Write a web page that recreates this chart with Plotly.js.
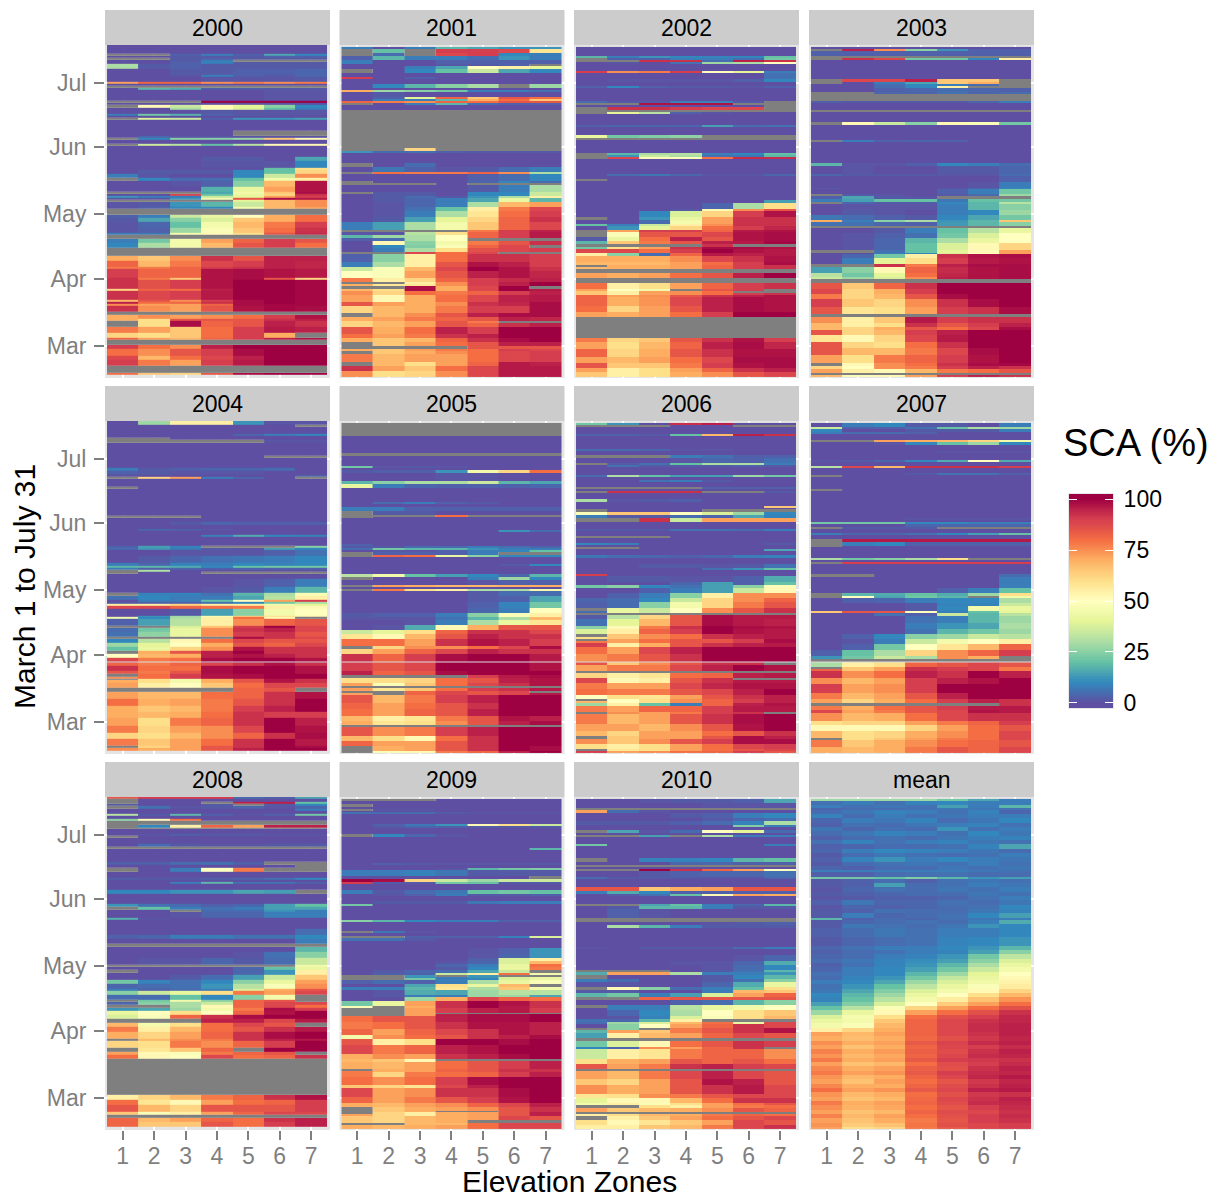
<!DOCTYPE html>
<html>
<head>
<meta charset="utf-8">
<script src="https://cdn.plot.ly/plotly-3.0.1.min.js"></script>
<style>body{margin:0;background:#fff}</style>
</head>
<body>
<div id="chart" style="width:1222px;height:1199px"></div>
<script>
const NA = null;
const zones = [1, 2, 3, 4, 5, 6, 7];
const monthTicks = [15, 46, 76, 107, 137];
const monthLabels = ["Mar", "Apr", "May", "Jun", "Jul"];
const legendTicks = [0, 25, 50, 75, 100];
const panelNames = ["2000","2001","2002","2003","2004","2005","2006","2007","2008","2009","2010","mean"];

// every row: [day counted from 31 July downwards, SCA of zone 1..7], row lasts until the next one
const sca2000 = [
[0,0,0,0,0,0,0,0],[4,NA,NA,3,8,3,15,10],[5,0,0,2,2,2,3,3],[6,NA,NA,2,3,2,2,2],[7,0,0,2,8,NA,NA,NA],[8,0,0,3,9,2,2,2],[9,30,2,3,2,2,2,2],[11,0,0,2,2,3,3,4],[14,0,0,1,8,3,2,4],[15,0,0,0,1,1,1,2],[17,72,82,82,75,78,75,78],[18,0,0,0,0,0,0,0],[19,NA,NA,NA,NA,NA,NA,NA],[20,0,18,16,3,3,2,2],[21,0,0,0,0,0,1,1],[26,NA,NA,NA,100,100,100,100],[27,0,0,0,0,0,0,0],[28,NA,52,35,52,40,25,10],[29,0,0,30,48,38,20,8],[30,0,0,0,2,1,1,1],[32,8,22,17,3,2,1,1],[33,0,0,0,0,0,0,0],[34,NA,38,36,3,12,12,14],[35,0,0,0,0,0,0,0],[40,0,0,0,0,NA,NA,NA],[42,0,4,1,1,1,1,1],[43,NA,10,25,25,28,65,52],[44,0,0,0,0,0,0,0],[46,NA,36,32,20,32,52,52],[47,0,0,0,0,0,0,0],[52,0,0,0,2,2,0,15],[54,0,0,0,1,1,1,10],[57,0,0,0,0,0,20,60],[58,0,2,2,2,10,20,62],[60,8,1,0,0,10,35,75],[61.5,NA,10,5,5,20,45,55],[63,0,0,1,3,25,68,97],[65.7,0,0,0,17,42,72,97],[68,NA,NA,NA,15,45,65,98],[69,0,0,88,20,42,62,92],[70,12,8,8,35,40,72,90],[71,1,1,12,45,85,98,96],[72,NA,NA,NA,NA,40,68,75],[73,1,2,12,18,35,68,75],[75,1,3,10,10,45,68,72],[76,NA,NA,NA,NA,NA,NA,NA],[79,3,8,35,42,50,70,80],[80,2,15,25,38,65,70,80],[82,1,4,20,45,68,78,90],[85,1,3,28,48,65,80,92],[87,8,7,45,52,60,85,93],[88,NA,NA,NA,NA,NA,NA,NA],[90,8,22,45,72,82,90,85],[92,10,30,45,68,85,90,80],[94,NA,NA,NA,NA,NA,NA,NA],[98,70,65,75,92,85,95,95],[100,82,68,78,88,90,95,94],[103,78,78,82,90,92,95,94],[104,90,82,82,97,98,97,96],[108,92,78,65,97,98,85,62],[109,92,86,90,97,100,100,99],[113,62,82,80,95,100,100,99],[114,92,88,90,96,100,100,99],[118,68,85,75,90,98,100,99],[119,95,80,82,92,98,100,99],[120,75,72,72,82,98,99,99],[121,92,75,72,85,97,99,98],[124,NA,NA,NA,NA,NA,NA,NA],[125,70,75,72,75,80,90,97],[127,70,60,85,85,85,92,95],[128,NA,60,98,82,85,95,92],[130.6,78,72,65,80,90,96,95],[133.7,62,60,65,80,90,70,NA],[136,82,72,68,82,90,95,97],[137,NA,NA,NA,NA,NA,NA,NA],[139,90,80,75,95,100,100,100],[141,80,75,85,90,98,100,100],[144,88,68,80,88,95,100,100],[146,90,78,72,90,96,100,100],[149,NA,NA,NA,NA,NA,NA,NA],[152,80,65,62,85,98,100,100]
];
const sca2001 = [
[0,8,0,8,18,15,12,12],[1,NA,20,NA,90,90,88,58],[3,NA,5,NA,88,90,10,8],[4,3,18,8,8,5,12,8],[6,8,0,0,3,3,3,3],[8,0,0,0,2,2,3,NA],[9,0,0,8,15,50,55,40],[10,NA,0,10,20,35,15,10],[12,0,0,0,0,0,0,0],[14,90,0,3,0,0,0,0],[15,0,0,0,0,0,0,0],[17,0,10,18,25,30,NA,28],[19,0,0,0,0,0,0,0],[20,70,28,25,22,8,8,6],[21,0,2,0,0,0,0,0],[23,0,3,40,82,65,85,80],[24,0,8,8,18,70,80,65],[25,82,78,75,82,80,85,85],[26,NA,0,8,18,5,3,3],[27,0,0,0,0,0,0,0],[29,NA,NA,NA,NA,NA,NA,NA],[47,NA,NA,62,NA,NA,NA,NA],[48,12,5,6,3,2,2,2],[49,0,0,0,0,0,0,0],[54,NA,0,5,0,0,0,0],[55.5,0,7,3,1,2,5,8],[58,NA,80,78,78,82,75,30],[59,0,0,0,0,3,5,10],[62,NA,0,0,0,4,10,5],[63,NA,NA,NA,0,NA,NA,NA],[64,0,0,0,0,2,8,30],[67,NA,2,2,0,10,10,35],[68,0,2,2,0,10,10,35],[69,0,2,5,2,12,30,55],[70,0,2,4,8,15,42,18],[72,0,1,4,8,30,68,72],[74,0,1,6,20,55,78,88],[76,0,1,8,30,58,80,90],[78.7,0,2,14,40,62,82,92],[81,8,14,30,45,65,82,88],[85,NA,NA,NA,NA,78,90,95],[86,1,1,32,60,82,90,96],[87,18,28,30,50,82,90,96],[88.7,3,5,30,50,NA,NA,NA],[90,0,52,25,45,78,85,92],[92,0,10,24,48,82,88,NA],[93,0,8,30,60,86,88,90],[95,NA,NA,88,80,88,NA,NA],[96,3,25,55,80,92,92,90],[99.5,8,30,55,85,97,95,90],[102,35,48,68,88,100,97,92],[104,50,48,72,85,95,97,94],[107,78,55,62,82,90,93,95],[109,NA,NA,55,75,90,95,100],[110,70,58,58,75,90,95,100],[111,NA,NA,98,70,88,100,NA],[112,68,60,98,70,88,100,96],[113,75,62,80,78,82,90,95],[115,72,52,70,80,88,95,96],[118,85,72,70,75,92,94,98],[120,62,68,70,78,90,90,98],[123.5,NA,68,75,85,95,98,98],[125,70,72,78,82,85,95,94],[127,62,68,72,85,78,NA,NA],[128,62,68,72,85,82,92,95],[130,85,70,80,95,90,100,100],[133,80,72,78,92,95,100,100],[135,70,65,68,82,92,98,100],[137,NA,65,72,80,85,95,95],[138.5,NA,NA,NA,NA,85,85,85],[140,70,65,72,78,80,90,88],[141,NA,65,70,75,80,88,90],[142.5,78,68,72,72,80,88,90],[146,NA,68,60,72,82,96,95],[148,92,72,65,80,88,96,96],[150,75,60,62,75,88,96,96]
];
const sca2002 = [
[0,0,0,0,0,0,0,0],[4,18,8,12,10,9,10,20],[5,NA,3,3,8,8,5,22],[6,NA,NA,92,92,5,95,92],[7,0,1,0,6,28,30,50],[8,0,0,0,0,0,0,0],[11,90,75,78,90,50,40,8],[12,0,0,0,0,0,0,6],[15,0,1,1,1,1,3,10],[16,0,0,0,0,0,0,0],[18,3,10,3,2,2,1,3],[19,0,0,0,0,0,0,0],[25,5,2,2,9,9,2,NA],[26,NA,NA,97,97,97,NA,NA],[27,0,0,0,0,0,0,NA],[28,NA,92,92,90,88,88,NA],[29,NA,NA,NA,NA,NA,NA,NA],[30,NA,40,32,3,1,0,0],[31,0,0,0,0,0,0,0],[36,3,4,4,4,14,5,6],[37,0,0,0,0,0,0,0],[41,42,22,24,26,NA,NA,NA],[42,NA,NA,NA,NA,NA,NA,NA],[43,0,0,0,0,0,0,0],[49,NA,18,30,32,8,10,20],[50,NA,12,35,30,6,7,18],[51,NA,88,48,48,80,93,93],[52,0,0,0,0,0,0,0],[59,0,5,7,4,1,1,4],[60,0,0,0,0,0,0,0],[61,NA,0,0,0,0,0,0],[62,0,0,0,0,0,0,0],[71,0,0,0,0,0,0,14],[72.5,0,0,0,0,4,30,60],[75,0,0,0,2,52,75,85],[76,0,0,10,38,62,90,97],[79,NA,0,12,42,72,92,92],[80,0,0,5,45,72,92,92],[82,20,8,35,55,75,92,92],[83,0,12,40,62,80,90,94],[85,NA,72,90,90,82,96,97],[86,NA,48,85,85,88,97,98],[88,2,42,80,95,85,97,98],[90,18,65,78,85,95,96,99],[91.3,NA,NA,NA,NA,92,NA,NA],[92.5,22,60,72,92,98,98,97],[93.5,88,88,80,90,100,97,96],[95.7,55,25,5,82,96,95,96],[97,70,70,70,75,88,92,97],[99.5,68,68,68,72,80,90,98],[101,NA,70,70,72,82,90,92],[102,68,70,70,72,82,90,92],[103,NA,NA,NA,NA,NA,NA,NA],[105,72,70,72,80,85,95,100],[107,NA,NA,NA,NA,NA,NA,NA],[109.6,80,55,60,72,82,90,92],[112,72,50,45,NA,85,90,NA],[113,65,55,72,75,80,NA,NA],[114,65,55,72,75,80,90,92],[115,82,72,75,85,92,95,97],[116,82,70,74,88,95,98,97],[120,80,62,72,85,95,98,97],[122.7,72,70,72,80,90,100,100],[125,NA,NA,NA,NA,NA,NA,NA],[134.8,78,62,65,85,92,97,90],[137,72,60,68,82,95,98,94],[140,82,62,70,85,92,97,97],[143.6,72,68,72,80,88,98,98],[146.7,85,65,65,78,90,97,98],[149,72,55,60,72,82,92,95],[150.6,65,55,60,70,75,85,88]
];
const sca2003 = [
[0,0,0,0,0,0,0,0],[1,NA,95,75,25,12,3,3],[2,3,3,3,3,3,3,3],[4,NA,NA,NA,NA,NA,NA,NA],[5,NA,92,88,22,22,10,55],[6,0,0,0,0,0,0,0],[15,NA,88,88,95,65,65,NA],[16,NA,0,8,15,65,70,NA],[17,0,0,5,10,8,5,NA],[18,0,0,5,10,55,NA,NA],[19,0,0,3,4,5,4,3],[21,NA,NA,4,4,6,4,5],[22,NA,NA,NA,NA,NA,NA,NA],[25,3,2,2,2,2,4,8],[26,0,0,0,0,0,0,0],[29,NA,NA,NA,NA,NA,NA,NA],[30,0,0,0,0,0,0,0],[35,NA,52,35,25,52,48,22],[36,0,0,0,0,0,0,0],[43,NA,8,3,4,3,0,0],[44,0,0,0,0,0,0,0],[54,18,1,1,3,10,8,5],[55,0,1,0,0,2,2,4],[59,4,2,2,2,1,1,5],[60,0,0,0,0,0,0,3],[62.5,0,0,0,0,0,1,8],[65.5,2,0,0,0,1,4,10],[66,0,0,0,0,3,8,22],[68,NA,2,1,0,2,5,28],[69,3,15,2,1,NA,NA,NA],[70.5,8,14,20,20,7,20,22],[72,NA,4,2,2,10,18,32],[73,0,1,1,1,8,18,25],[75.5,0,2,1,0,8,10,28],[78,7,5,3,2,10,15,22],[80,70,8,25,30,12,18,65],[81,6,6,4,3,13,18,25],[83,NA,NA,NA,NA,NA,NA,NA],[84,0,0,2,8,20,32,42],[86.4,0,1,3,6,22,38,50],[88.7,0,1,4,18,30,42,50],[91,0,1,4,20,38,52,62],[94,NA,NA,6,20,40,52,72],[95.4,0,0,8,10,38,50,72],[96,0,4,22,55,92,97,98],[98,0,8,40,60,90,96,97],[100.6,NA,NA,92,78,95,98,98],[102,14,25,52,82,93,97,98],[105,32,22,40,80,94,97,98],[106.5,35,28,38,75,95,97,98],[107.7,NA,NA,NA,NA,NA,NA,NA],[109.6,85,65,82,92,100,100,100],[112,88,62,70,90,100,100,100],[114.5,78,62,68,85,98,100,100],[117,90,65,62,75,92,98,100],[120.4,85,58,60,72,90,92,98],[124,NA,NA,NA,NA,NA,NA,NA],[125,75,55,65,96,90,92,92],[128,68,55,60,92,85,90,95],[129.7,68,62,70,85,80,88,98],[131,85,62,68,90,95,100,100],[133.5,58,52,62,88,96,100,100],[136.6,85,62,60,80,92,100,100],[139.7,85,68,68,78,88,98,100],[143,72,60,78,82,90,97,100],[146.7,NA,52,75,80,92,98,99],[148,62,50,75,78,90,95,92],[149.5,72,55,52,68,78,80,85],[151,NA,NA,NA,NA,NA,NA,NA],[152,68,48,52,72,90,95,92]
];
const sca2004 = [
[0,0,28,55,55,12,1,1],[2,0,0,0,0,0,0,NA],[3,0,0,0,0,0,0,0],[6,0,0,0,0,4,8,10],[7,0,0,0,0,0,0,0],[8,NA,NA,0,0,0,0,0],[9,NA,NA,NA,NA,NA,1,1],[10,0,0,0,0,0,0,0],[16,0,0,0,0,0,NA,NA],[17,0,0,0,0,0,0,0],[21.6,8,2,3,4,4,5,0],[23,3,2,1,1,1,0,0],[25,0,0,0,0,0,0,3],[26,NA,62,72,8,4,0,NA],[27,0,0,0,0,0,0,0],[30.4,NA,0,0,0,0,0,0],[31.4,0,0,0,0,0,0,0],[44,NA,NA,NA,0,0,0,0],[45,0,0,0,0,0,0,0],[47,0,0,2,4,3,3,3],[48,0,0,0,0,0,0,0],[50,0,4,3,1,0,0,0],[51,0,0,0,0,0,0,0],[53,0,0,0,8,16,10,9],[54,0,0,0,0,0,0,0],[58,3,14,9,NA,NA,NA,25],[59,5,13,8,2,1,14,10],[60,0,0,1,1,1,3,6],[62.6,0,2,4,6,7,8,10],[66,8,4,9,8,10,9,10],[67,18,18,16,10,20,22,22],[68,8,3,4,3,4,3,3],[69,NA,30,0,0,0,0,0],[70,NA,0,0,NA,NA,NA,NA],[71,0,0,0,0,0,0,0],[73.4,0,0,0,0,1,3,8],[77,0,0,0,1,2,8,18],[79.6,NA,9,9,6,18,30,48],[81,6,10,8,8,15,32,55],[83,0,8,8,20,50,72,90],[84,2,3,3,6,10,22,30],[85,55,55,62,55,55,45,40],[86,88,88,82,80,78,55,52],[87,0,0,2,14,25,45,50],[90.4,0,12,28,48,62,60,55],[91,45,10,30,55,80,52,NA],[92,3,14,32,55,75,82,85],[95,NA,NA,38,65,90,100,88],[96,5,22,42,75,92,95,88],[98,6,26,42,75,90,92,85],[100,NA,NA,NA,NA,98,92,88],[101,10,32,52,80,88,85,85],[103,28,40,50,70,85,82,88],[104.6,20,42,62,75,97,92,92],[106.6,NA,70,85,95,100,92,92],[108,50,68,70,95,97,95,92],[110,88,78,80,98,100,100,97],[112,82,78,82,88,92,97,92],[113.6,92,80,80,98,100,100,97],[116,85,78,85,98,100,100,97],[117.5,NA,80,90,97,98,100,100],[118.5,75,80,90,97,98,100,100],[119.5,NA,60,45,70,85,97,92],[120.3,70,60,45,70,85,97,92],[121.3,72,55,50,65,80,88,88],[123.6,NA,NA,NA,NA,82,85,NA],[125.7,72,68,68,80,82,92,97],[129,80,70,72,78,85,92,100],[132,70,65,68,78,90,95,100],[135,70,68,70,80,92,90,90],[137.5,72,60,78,82,92,100,95],[141.4,78,62,72,75,88,100,97],[144.5,62,60,68,75,82,92,98],[147.6,78,65,72,80,92,100,96],[150.7,NA,62,72,85,92,100,98],[151.6,75,70,72,85,95,100,100]
];
const sca2005 = [
[0,NA,NA,NA,NA,NA,NA,NA],[6,0,0,0,0,0,0,0],[13.8,NA,NA,NA,NA,NA,NA,NA],[15.3,0,0,0,0,0,0,0],[20,22,1,2,1,0,0,0],[21,0,0,0,0,0,0,0],[22,2,3,3,12,45,62,80],[23.4,0,0,0,1,1,0,0],[27,18,25,30,30,35,18,15],[28.4,42,8,4,3,3,3,4],[30,0,0,0,0,0,0,0],[36.5,0,5,8,3,2,0,0],[37.5,0,0,0,0,0,0,0],[39,8,8,3,3,3,3,3],[41,NA,2,2,0,0,0,0],[42.5,NA,NA,NA,80,NA,NA,NA],[43.5,NA,0,0,0,0,0,0],[44,0,0,0,0,0,0,0],[49.6,0,0,0,0,0,12,5],[50.6,0,0,0,0,0,0,0],[56,3,0,0,0,0,0,0],[57,2,2,5,5,8,6,4],[58,5,22,18,18,12,8,8],[59,0,2,1,3,8,10,20],[60,NA,3,3,3,8,NA,NA],[61,NA,82,80,42,25,10,10],[62,0,0,0,0,0,0,0],[65.5,0,0,0,0,0,2,10],[66.5,0,0,0,0,0,0,0],[70,32,45,20,14,10,4,18],[71.4,NA,0,0,0,8,28,10],[73,0,0,0,0,1,3,3],[75,NA,72,70,68,68,70,70],[76,0,0,0,0,0,0,0],[77,NA,78,60,55,30,30,45],[78,0,0,0,0,2,5,5],[80,0,0,0,0,2,3,15],[83,0,0,0,0,3,9,22],[86,0,0,0,0,4,8,50],[88,2,3,3,8,25,48,55],[89.8,1,1,1,6,18,30,68],[91.3,0,0,1,8,30,42,58],[93.8,0,1,16,52,70,85,85],[96,35,40,60,82,92,92,88],[98,58,52,68,85,95,92,92],[100.3,80,80,72,92,97,95,90],[103.4,NA,62,75,75,80,88,98],[105,62,72,82,88,95,92,92],[107,92,82,90,98,100,100,96],[111,90,85,88,100,100,100,97],[115,95,82,85,98,100,100,100],[117,NA,NA,NA,NA,90,96,98],[118,60,60,62,80,85,95,97],[120.4,72,48,65,80,88,92,97],[122,NA,NA,NA,NA,NA,NA,NA],[123,72,58,65,80,90,92,96],[124.3,NA,NA,82,88,85,88,NA],[125.3,72,NA,82,88,85,88,96],[126,85,68,78,90,95,100,100],[129.7,82,72,80,85,92,100,100],[132.8,80,72,82,85,95,100,100],[135.9,68,55,58,78,85,97,95],[138,70,58,60,75,85,95,98],[140,NA,NA,NA,NA,NA,NA,NA],[141,85,75,78,90,95,100,100],[145,68,60,52,80,92,100,100],[147.5,82,72,72,85,92,100,100],[149.8,NA,70,72,85,92,100,98],[152,NA,48,52,78,82,95,100]
];
const sca2006 = [
[0,22,12,0,92,95,0,0],[1,NA,NA,NA,0,0,NA,NA],[2,0,0,0,0,0,0,0],[5,3,3,2,20,68,95,92],[6,0,0,0,0,0,0,0],[12,5,5,4,1,1,0,0],[13,0,0,0,0,0,0,0],[15,NA,NA,NA,8,6,3,3],[16,0,0,0,1,4,3,6],[18.4,NA,2,6,20,30,30,8],[19.5,0,6,2,2,2,3,2],[20.5,0,0,0,0,0,0,0],[24,5,30,20,14,14,28,22],[25,0,0,0,0,0,0,0],[26.4,0,0,6,8,2,0,0],[27.4,0,0,0,0,0,0,0],[29.5,NA,NA,NA,NA,3,3,3],[30.5,0,0,0,0,0,0,0],[31.4,NA,92,92,92,NA,NA,2],[32.4,0,0,0,0,0,0,0],[35.4,30,1,2,3,0,0,0],[36.4,0,0,0,0,0,0,0],[38.5,0,0,0,0,0,0,65],[39.6,0,0,0,0,0,0,0],[40,NA,0,0,0,NA,NA,NA],[41.4,48,65,65,50,38,28,10],[42.5,8,2,2,5,4,15,9],[44,NA,NA,92,35,72,72,72],[46,0,0,0,0,0,0,0],[49.3,2,2,2,6,6,5,8],[50.3,0,0,0,0,0,0,0],[52.4,NA,NA,NA,0,0,0,0],[53.4,0,0,0,0,0,0,0],[55.5,10,8,0,0,0,0,2],[56.5,0,0,0,0,0,0,0],[57.5,NA,NA,0,0,0,0,0],[58.4,0,0,0,0,0,0,15],[59.4,0,0,0,0,0,0,0],[61.4,7,5,4,3,4,8,9],[62.5,0,0,0,0,0,0,0],[65.5,0,0,2,2,1,2,6],[67,0,0,0,0,6,12,20],[68,0,0,0,0,0,0,0],[70,90,0,0,0,0,0,0],[71,0,2,2,1,1,3,16],[73.7,0,0,0,4,14,3,20],[75,22,25,10,6,14,25,48],[76.5,0,0,3,8,14,35,52],[79,0,3,8,25,55,75,75],[81,4,5,10,35,62,75,82],[83,3,5,25,45,62,78,85],[86,NA,42,35,50,75,85,92],[87,5,42,35,50,75,85,92],[88,NA,NA,NA,NA,NA,NA,NA],[89,2,32,62,85,98,96,96],[91,6,40,68,85,98,96,95],[94,25,52,78,92,100,98,97],[95.7,38,55,82,90,100,97,96],[98,NA,65,75,80,92,95,96],[99,60,65,75,80,92,95,96],[100.3,NA,72,80,85,85,90,98],[101.3,78,72,80,85,85,90,98],[102,90,55,70,85,92,95,96],[104,80,72,88,95,100,100,100],[107,75,78,85,92,100,100,100],[110.8,85,65,75,85,92,92,NA],[112,72,78,78,88,95,100,97],[115,NA,NA,NA,NA,NA,NA,NA],[116,62,55,58,80,82,95,96],[118,88,52,55,85,92,NA,NA],[119.2,88,52,55,85,92,96,96],[120.4,78,72,72,88,94,97,97],[123.5,80,78,78,85,88,95,100],[126.3,50,60,58,72,85,92,95],[128,NA,50,60,75,82,90,95],[129,68,50,60,75,82,90,95],[130,28,55,20,8,82,95,97],[131,78,72,82,82,90,96,96],[134,NA,75,72,78,90,92,NA],[135,78,68,72,85,92,98,100],[139.7,72,72,68,75,85,97,100],[142.8,68,62,72,72,80,85,92],[145,NA,65,72,72,85,98,95],[146.4,75,65,75,85,90,98,98],[149,60,55,60,72,80,88,90],[151,NA,58,60,72,80,85,88],[152,90,72,75,80,82,90,85]
];
const sca2007 = [
[0,0,8,10,2,2,0,8],[2,35,3,3,6,20,30,28],[3,10,0,0,2,2,2,8],[4,8,5,5,3,0,0,0],[5,0,0,0,0,0,0,0],[8,NA,NA,72,70,68,62,45],[9,0,0,1,10,20,28,10],[10,0,0,0,0,0,0,0],[13,0,0,0,0,1,1,1],[14,0,0,0,0,0,0,0],[17,1,2,4,10,16,50,16],[18,0,0,0,0,0,0,0],[20,32,88,68,92,92,92,90],[21,0,0,0,0,0,0,0],[23,0,0,0,2,6,6,3],[24,NA,0,0,0,0,0,0],[25,0,0,0,0,0,0,0],[30.4,NA,0,0,0,0,0,0],[31.4,0,0,0,0,0,0,0],[44,0,0,0,1,1,1,1],[45,0,0,0,0,0,0,0],[46,22,22,22,10,10,8,8],[47,0,0,0,4,4,4,4],[48,NA,2,2,2,NA,NA,NA],[49,0,0,0,0,0,0,0],[51,8,4,4,6,10,14,20],[52,0,0,0,0,0,0,0],[54,NA,96,96,96,96,96,96],[55,NA,8,10,3,3,3,3],[57,NA,0,0,0,0,0,0],[57.5,0,0,0,0,0,0,0],[62.4,30,22,25,30,60,NA,NA],[63.5,0,0,0,0,0,0,0],[64.4,NA,90,90,90,90,90,90],[65.4,0,0,0,0,0,0,0],[70,NA,NA,0,0,0,0,5],[71.4,0,0,0,0,0,0,8],[76.4,0,0,0,0,3,8,20],[79,NA,18,16,20,16,28,60],[80,NA,50,15,22,18,NA,45],[81,0,3,4,8,10,10,30],[83.5,0,0,0,2,9,9,35],[85,0,0,0,2,10,45,42],[87,65,85,85,50,8,20,40],[88,0,0,6,3,35,18,32],[89.5,0,0,0,6,8,18,28],[92.6,0,0,0,8,12,15,30],[95.7,0,0,0,6,18,22,28],[98,0,3,10,25,28,35,32],[100,0,1,8,35,45,50,55],[102.6,0,3,22,50,58,68,82],[105.4,3,20,30,62,75,82,90],[108,12,22,35,30,75,70,NA],[109.3,NA,NA,NA,NA,NA,NA,NA],[111,30,55,60,82,85,88,85],[113,NA,65,72,92,90,88,78],[114,82,65,72,92,90,88,78],[115,92,75,80,95,92,100,95],[118,75,68,72,90,95,97,100],[121,90,72,75,90,100,100,100],[125,78,68,72,85,95,100,100],[128,72,62,70,80,90,95,92],[130,NA,NA,NA,NA,NA,NA,92],[131,78,70,80,85,90,96,96],[133,88,72,78,85,88,97,96],[134.6,75,68,70,80,88,92,92],[138,60,62,62,72,78,82,90],[140,52,52,52,62,72,80,85],[143,68,60,62,70,75,80,88],[146,NA,60,65,72,78,80,88],[147,78,65,70,75,80,82,85],[150,70,68,70,78,85,82,88]
];
const sca2008 = [
[0,85,90,90,90,5,3,15],[1,NA,0,0,0,0,0,0],[2.3,NA,0,0,NA,95,95,20],[3.4,2,0,0,2,NA,2,10],[4.3,NA,6,1,2,4,1,4],[5.4,0,0,0,0,0,0,8],[6.4,0,0,0,0,0,0,0],[8,32,2,18,3,1,3,22],[9,0,0,0,0,0,0,0],[10,25,52,80,0,0,0,0],[11.3,NA,NA,NA,NA,NA,NA,NA],[13,NA,10,55,82,72,95,95],[14.4,NA,NA,NA,NA,NA,NA,NA],[15,0,0,0,0,0,0,0],[17,0,1,3,2,2,1,1],[18,NA,0,0,0,0,0,0],[19,0,0,0,0,0,0,0],[22,0,5,2,1,1,2,2],[23,NA,NA,NA,NA,NA,NA,NA],[24,0,0,0,0,0,0,0],[30,3,3,5,6,3,NA,NA],[31.4,0,0,0,0,0,0,NA],[33,NA,0,8,50,78,NA,NA],[35,0,0,0,0,0,0,0],[37.4,3,2,2,3,4,6,10],[38.4,0,0,0,0,0,0,0],[39.4,0,0,8,18,6,6,3],[40.4,0,0,0,0,0,0,0],[43,10,10,12,12,15,14,NA],[44.8,0,0,0,0,0,0,0],[49.5,12,6,5,3,4,14,20],[51,NA,20,8,6,8,14,15],[52.5,0,0,NA,5,5,12,8],[53.5,0,0,1,4,4,8,8],[56,17,1,0,0,0,0,0],[57,0,0,0,0,0,0,0],[61,0,0,0,0,0,0,5],[64,3,4,8,8,6,6,10],[65.7,0,0,0,0,0,0,8],[68,NA,NA,NA,NA,NA,NA,NA],[69.5,0,0,0,0,0,0,18],[72,0,0,0,0,1,6,25],[74.5,0,1,1,4,2,5,35],[78,NA,NA,NA,NA,NA,NA,45],[79,0,0,0,0,4,20,42],[80.4,NA,0,0,0,4,12,55],[81.4,0,0,0,0,4,12,55],[82.7,0,0,2,5,14,35,65],[85,22,9,6,10,25,42,72],[86.6,4,5,6,12,32,48,75],[88.9,8,3,5,8,38,70,85],[90,25,35,42,60,78,72,88],[92,5,5,20,10,25,45,NA],[94,NA,22,45,25,82,85,NA],[95,4,25,30,35,82,88,88],[96.6,NA,NA,30,52,82,88,80],[98,12,15,28,45,78,98,90],[99.4,42,50,60,50,82,97,100],[101,38,48,82,92,98,100,100],[103,NA,NA,NA,95,95,88,96],[105,68,45,60,80,88,85,NA],[106.6,78,55,68,80,85,92,96],[109,70,62,72,82,92,98,100],[112,NA,68,75,78,92,95,96],[113,62,60,78,75,82,90,100],[116.6,NA,58,65,82,NA,100,100],[118,72,52,48,78,82,85,NA],[119.8,80,52,50,88,80,82,92],[121.7,NA,NA,NA,NA,NA,NA,NA],[138,55,62,68,78,82,92,97],[140.6,80,58,52,72,80,82,90],[143,85,68,62,85,85,85,90],[146,65,48,55,72,82,88,88],[147.6,NA,NA,NA,NA,NA,NA,NA],[149,82,68,72,82,80,92,95],[150.7,82,65,65,85,80,90,95]
];
const sca2009 = [
[0,NA,NA,NA,0,0,0,0],[1,0,0,0,0,0,0,0],[2.5,NA,0,0,0,0,0,0],[3.5,0,0,0,0,0,0,0],[4.5,NA,1,1,0,0,0,0],[5.5,0,0,0,0,0,0,0],[6,6,5,5,2,1,1,1],[7,0,0,0,0,0,0,0],[11.4,0,3,7,12,52,60,35],[12.5,0,2,4,3,2,2,2],[13.5,0,0,0,0,0,0,0],[16.4,NA,10,4,1,0,0,0],[17.4,0,0,0,0,0,0,0],[22.5,0,0,0,0,0,0,18],[23.5,0,0,0,0,0,0,0],[29.5,0,3,2,1,1,1,2],[30.5,0,0,0,0,0,0,0],[32,0,0,0,1,18,22,24],[33,8,8,9,7,2,2,2],[35.5,0,0,0,0,0,0,NA],[37.3,100,98,62,35,28,35,35],[38.5,90,2,2,22,20,2,2],[39.5,0,0,0,0,0,0,0],[42,8,2,5,7,20,22,20],[44,0,1,3,8,2,2,3],[45,0,0,0,0,0,0,0],[47.4,0,2,2,2,7,8,8],[48.5,22,0,0,0,0,0,0],[49.5,0,0,0,0,0,0,0],[56,25,18,10,8,8,3,3],[57,0,0,0,0,0,0,0],[61,NA,7,1,0,0,0,0],[62,0,0,0,0,0,0,0],[63.5,NA,NA,3,3,3,9,38],[64.5,6,6,2,0,0,0,0],[66,0,0,0,0,0,0,0],[69,0,0,0,0,1,3,12],[71.7,0,0,0,0,1,4,12],[73.6,0,0,0,0,3,38,55],[75,0,0,0,1,4,38,68],[76.4,0,0,0,4,8,42,80],[78,0,0,0,2,10,42,78],[79.5,0,2,4,5,15,35,NA],[80.5,0,3,3,35,55,80,45],[81.4,NA,NA,12,NA,12,NA,NA],[82.4,NA,NA,12,8,12,38,42],[83,NA,NA,22,8,10,38,42],[84,3,5,3,8,30,42,48],[86,0,0,15,60,42,68,NA],[87,8,8,18,58,30,65,45],[88.7,0,1,16,15,28,32,32],[90.7,0,2,8,8,28,28,15],[91.8,0,0,28,70,88,82,80],[93.8,22,42,72,92,100,97,92],[96,48,NA,70,92,100,96,92],[97,NA,NA,72,90,95,96,90],[99,NA,NA,72,NA,NA,NA,NA],[99.7,NA,NA,72,95,98,98,100],[100.6,80,85,85,95,98,98,100],[103.4,78,80,85,92,97,97,95],[106.5,82,72,82,88,92,97,95],[109.3,45,75,80,85,92,95,98],[111.4,85,55,60,100,100,98,100],[114.2,88,78,82,95,97,100,100],[118,70,75,72,92,95,98,100],[120.4,68,65,52,NA,NA,NA,NA],[121.3,68,65,52,80,85,90,95],[122,70,68,72,80,85,90,95],[125,NA,70,72,82,85,92,92],[126,78,70,72,82,85,92,92],[126.6,78,62,78,80,82,90,95],[129,80,75,80,90,98,100,100],[132.5,65,62,58,88,95,100,100],[134,88,72,75,92,92,98,100],[138,82,72,78,85,90,97,100],[141,70,68,72,75,82,88,95],[143,NA,65,70,72,75,85,92],[144.5,NA,65,70,NA,NA,85,92],[145.2,NA,62,55,70,72,85,95],[146,72,62,55,70,72,85,95],[147,65,62,68,70,72,88,85],[149,65,62,68,70,NA,NA,NA],[150,NA,NA,68,68,80,88,88],[151,70,68,70,72,80,88,88]
];
const sca2010 = [
[0,0,0,1,2,2,3,15],[2,0,0,0,0,1,1,1],[4,NA,NA,NA,NA,NA,NA,NA],[5,72,5,1,0,0,0,0],[6.3,0,0,0,2,3,8,10],[9,0,0,0,0,2,4,5],[10.4,2,2,2,3,5,9,30],[12,0,0,0,0,0,24,8],[13,0,0,0,0,0,0,0],[14.5,NA,15,1,5,50,40,5],[15.6,0,0,0,0,0,0,0],[16.5,NA,NA,14,NA,30,8,8],[17.5,0,0,0,0,0,0,0],[21,22,0,0,0,0,0,8],[22,0,0,0,0,0,0,0],[27.4,NA,0,9,9,10,18,20],[29,0,0,0,4,4,3,3],[30.4,NA,NA,NA,NA,NA,NA,NA],[31.4,0,0,0,0,0,0,0],[32.3,NA,NA,100,92,82,72,50],[33.2,0,0,2,3,4,4,6],[36,5,2,2,2,1,1,4],[37,0,0,0,0,0,0,0],[41,85,85,65,70,72,85,85],[42.5,8,16,10,3,3,3,3],[44,0,2,6,20,52,72,70],[45,0,0,0,0,0,0,0],[48.5,NA,NA,15,20,8,4,18],[49.6,0,2,18,18,8,2,2],[51,0,3,1,0,0,0,0],[55,NA,NA,NA,NA,NA,NA,NA],[57,0,0,0,0,1,2,3],[58.6,0,30,18,8,2,2,2],[59.6,0,0,0,0,0,0,0],[68.6,1,0,2,2,2,5,8],[69.6,0,0,0,0,0,0,0],[72.5,0,0,0,0,0,1,4],[75.3,0,0,0,1,1,4,16],[77,0,0,0,0,1,5,10],[79.4,NA,NA,NA,0,2,6,18],[80.2,16,72,72,30,8,8,12],[81.5,NA,0,0,0,2,10,18],[83.3,8,5,0,0,2,6,25],[85,1,1,0,0,4,16,42],[87,NA,52,25,5,8,20,60],[88.7,2,2,0,0,8,68,65],[90,18,22,8,14,38,72,82],[92,NA,NA,82,85,85,85,85],[93.4,0,0,0,3,5,18,25],[95.7,NA,8,8,32,42,45,50],[96.7,0,8,8,32,42,45,50],[98,0,4,10,30,50,60,65],[100.6,0,1,9,38,48,60,68],[102,6,4,18,55,NA,NA,NA],[103.4,5,28,38,68,80,42,88],[104.5,0,25,50,72,82,92,88],[106,NA,25,NA,78,85,92,97],[107.3,18,72,65,78,85,92,97],[108.3,14,55,68,72,82,88,85],[110.8,NA,NA,NA,NA,NA,NA,NA],[112,22,38,52,80,85,92,90],[115,10,4,75,72,82,92,NA],[116,35,55,58,78,82,82,75],[120.4,60,70,72,85,82,85,80],[122.7,85,72,78,92,95,90,88],[125,NA,NA,NA,NA,NA,NA,NA],[126,72,68,78,88,95,88,85],[129.7,65,62,72,85,97,95,85],[132.8,75,70,72,85,92,96,88],[136.6,58,60,75,78,85,88,88],[138.6,40,52,52,68,80,92,92],[141,45,55,48,60,72,80,85],[142,NA,NA,60,55,72,78,80],[143.5,72,65,68,70,75,85,82],[145,NA,NA,NA,NA,NA,NA,NA],[146,55,60,68,70,78,82,80],[147,NA,55,65,72,80,85,88],[149,60,52,58,65,72,88,85],[151.3,55,55,65,68,78,88,92]
];
const scaMean = [
[0,28,28,28,28,22,15,8],[1,6,8,6,9,10,8,8],[3,8,6,7,6,14,8,18],[4,4,5,5,6,7,7,6],[5,5,7,9,8,6,9,4],[7,9,5,8,6,7,8,8],[9,4,8,7,9,5,7,10],[11,3,6,5,7,8,9,6],[13,7,4,6,5,12,6,8],[15,5,7,9,8,6,10,7],[17,3,5,6,5,7,8,9],[19,6,9,6,8,9,7,6],[21,3,4,5,5,6,9,15],[23,4,8,10,9,8,7,5],[25,2,5,7,6,5,6,8],[27,3,9,12,8,10,8,7],[29,2,5,6,7,6,8,6],[31,4,3,5,5,7,6,7],[33,8,8,8,8,8,7,6],[34,3,3,5,6,6,5,5],[36,22,22,20,24,18,12,14],[37,2,3,5,3,6,7,6],[39,2,3,14,5,6,8,7],[41,1,4,6,5,7,6,8],[43,2,3,4,5,5,7,6],[45,1,2,3,3,4,6,8],[47,3,7,4,4,6,5,7],[49,1,4,3,4,5,6,10],[51,2,3,6,5,5,7,9],[53,2,8,4,5,6,10,14],[55,18,3,5,4,6,7,8],[56,2,4,5,6,5,8,16],[58,2,7,6,5,7,12,10],[60,3,5,7,6,8,8,10],[64,2,4,5,6,9,10,12],[68,4,6,8,8,10,12,18],[70,3,5,6,8,9,14,25],[72,4,5,8,9,12,22,33],[74,5,7,9,11,14,25,38],[76,3,6,9,12,18,30,42],[78,4,8,10,14,22,35,45],[80,6,8,10,18,28,40,50],[82,5,9,12,22,34,42,52],[84,8,10,15,28,38,44,54],[86,6,12,20,33,42,48,56],[88,7,15,24,38,45,52,62],[90,10,18,28,42,50,60,68],[92,9,20,32,45,56,66,74],[94,14,24,38,50,64,72,80],[96,20,32,48,62,72,80,86],[98,28,42,52,72,80,86,92],[100,38,46,60,80,86,90,94],[102,42,45,65,82,88,92,94],[104,45,48,68,82,88,93,95],[106,55,62,70,82,88,93,95],[108,72,68,72,82,88,92,95],[110,70,67,70,81,86,91,94],[112,75,70,72,84,89,93,95],[114,72,66,70,82,88,90,93],[116,77,70,73,83,87,92,95],[118,74,68,71,82,88,93,94],[120,78,70,72,84,90,91,92],[122,72,66,68,80,87,90,93],[124,76,70,72,83,86,92,95],[126,78,72,74,84,90,93,94],[128,74,68,70,82,88,94,96],[130,72,66,72,80,85,91,94],[132,76,70,70,82,87,92,95],[134,80,72,74,84,88,95,96],[136,74,68,70,80,86,91,92],[138,72,66,68,81,88,92,95],[140,78,70,72,82,87,93,94],[142,75,69,71,80,85,90,93],[144,72,66,68,82,87,88,92],[146,77,68,72,80,86,90,93],[148,72,66,70,78,85,90,92],[150,74,64,66,79,86,88,90],[152,72,60,62,78,84,88,90]
];
const panelData = [sca2000, sca2001, sca2002, sca2003, sca2004, sca2005, sca2006, sca2007, sca2008, sca2009, sca2010, scaMean];

const spectral = ["#5e4fa2","#3288bd","#66c2a5","#abdda4","#e6f598","#ffffbf","#fee08b","#fdae61","#f46d43","#d53e4f","#9e0142"];

// figure is laid out in pixels, same grid as the facets
const W = 1222, H = 1199;
const colLeft = [105, 339.5, 574, 809], panelW = 225;
const rowTop = [45, 421, 797], panelH = 333, stripH = 35;
const px = v => v / W, py = v => 1 - v / H;

const zMin = 0, zMax = 100;
const colorscale = spectral.map((c, i) => [i / 10, c]);

const traces = [], shapes = [], annotations = [];
const layout = {
  width: W, height: H,
  margin: {l: 0, r: 0, t: 0, b: 0},
  paper_bgcolor: "#ffffff",
  plot_bgcolor: "#e5e5e5",
  font: {family: "Liberation Sans, Arial, sans-serif"},
  showlegend: false
};

panelData.forEach((rows, i) => {
  const col = i % 4, row = Math.floor(i / 4), id = i === 0 ? "" : String(i + 1);
  // first column sits one day higher in the picture
  const shift = col === 0 ? 1 : 0;
  const up = rows.slice().reverse();
  const edges = [153].concat(up.map(r => r[0])).map(t => 153.5 - t + shift);
  const z = up.map(r => r.slice(1));
  traces.push({
    type: "heatmap", x: zones, y: edges, z: z, xaxis: "x" + id, yaxis: "y" + id,
    zmin: zMin, zmax: zMax, colorscale: colorscale, showscale: false,
    hoverongaps: false
  });
  // missing days, painted grey50 as ggplot does
  traces.push({
    type: "heatmap", x: zones, y: edges, z: z.map(r => r.map(v => v === NA ? 1 : NA)),
    xaxis: "x" + id, yaxis: "y" + id, zmin: 0, zmax: 1,
    colorscale: [[0, "#7f7f7f"], [1, "#7f7f7f"]], showscale: false, hoverinfo: "skip"
  });

  layout["xaxis" + id] = {
    domain: [px(colLeft[col]), px(colLeft[col] + panelW)], range: [0.436, 7.6],
    anchor: "y" + id, tickmode: "array", tickvals: zones, ticktext: zones.map(String),
    showgrid: true, gridcolor: "#ffffff", gridwidth: 1.5, zeroline: false, showline: false,
    ticks: row === 2 ? "outside" : "", ticklen: 9, tickwidth: 2, tickcolor: "#7f7f7f",
    showticklabels: row === 2, tickfont: {size: 23, color: "#7f7f7f"}, ticklabelstandoff: -4
  };
  layout["yaxis" + id] = {
    domain: [py(rowTop[row] + panelH), py(rowTop[row])], range: [0, 154.4],
    anchor: "x" + id, tickmode: "array", tickvals: monthTicks, ticktext: monthLabels,
    showgrid: true, gridcolor: "#ffffff", gridwidth: 1.5, zeroline: false, showline: false,
    ticks: col === 0 ? "outside" : "", ticklen: 10, tickwidth: 2, tickcolor: "#7f7f7f",
    showticklabels: col === 0, tickfont: {size: 23, color: "#7f7f7f"}, ticklabelstandoff: 3
  };

  shapes.push({
    type: "rect", xref: "paper", yref: "paper", layer: "below", line: {width: 0}, fillcolor: "#cccccc",
    x0: px(colLeft[col]), x1: px(colLeft[col] + panelW),
    y0: py(rowTop[row] - stripH), y1: py(rowTop[row])
  });
  annotations.push({
    text: panelNames[i], xref: "paper", yref: "paper", showarrow: false,
    x: px(colLeft[col] + panelW / 2), y: py(rowTop[row] - stripH / 2 + (row === 0 ? 1 : 0)),
    xanchor: "center", yanchor: "middle", font: {size: 23, color: "#000000"}
  });
  // thin pale seam across the middle row of facets
  if (row === 1) {
    shapes.push({
      type: "line", xref: "paper", yref: "paper", line: {color: "#dddddd", width: 1},
      x0: px(colLeft[col] + 2), x1: px(colLeft[col] + panelW - 2), y0: py(662), y1: py(662)
    });
  }
});

// legend bar: its own small axes so the white ticks can sit on both edges
const legendSteps = [];
for (let v = -2; v <= 102; v++) legendSteps.push(v);
traces.push({
  type: "heatmap", x: [0], y: legendSteps, z: legendSteps.map(v => [Math.min(100, Math.max(0, v))]),
  xaxis: "x13", yaxis: "y13", zmin: zMin, zmax: zMax, colorscale: colorscale,
  showscale: false, hoverinfo: "skip", zsmooth: false
});
layout.xaxis13 = {
  domain: [px(1069), px(1113)], range: [-0.5, 0.5], anchor: "y13",
  showgrid: false, zeroline: false, showticklabels: false, ticks: "",
  showline: true, linecolor: "#e8e8e8", linewidth: 1, mirror: true
};
layout.yaxis13 = {
  domain: [py(708), py(494)], range: [-2.5, 102.5], anchor: "x13", side: "right",
  tickmode: "array", tickvals: legendTicks, ticktext: legendTicks.map(String),
  ticks: "inside", ticklen: 8, tickwidth: 1, tickcolor: "#ffffff", mirror: "allticks",
  showline: true, linecolor: "#e8e8e8", linewidth: 1,
  showgrid: false, zeroline: false, tickfont: {size: 23, color: "#000000"}, ticklabelstandoff: 5
};

annotations.push(
  {text: "Elevation Zones", xref: "paper", yref: "paper", showarrow: false, x: px(569), y: py(1181),
   xanchor: "center", yanchor: "middle", font: {size: 30, color: "#000000"}},
  {text: "March 1 to July 31", xref: "paper", yref: "paper", showarrow: false, x: px(24), y: py(587),
   xanchor: "center", yanchor: "middle", textangle: -90, font: {size: 30, color: "#000000"}},
  {text: "SCA (%)", xref: "paper", yref: "paper", showarrow: false, x: px(1061), y: py(443),
   xanchor: "left", yanchor: "middle", font: {size: 38, color: "#000000"}}
);

layout.shapes = shapes;
layout.annotations = annotations;

Plotly.newPlot("chart", traces, layout, {displayModeBar: false, responsive: false});
</script>
</body>
</html>
